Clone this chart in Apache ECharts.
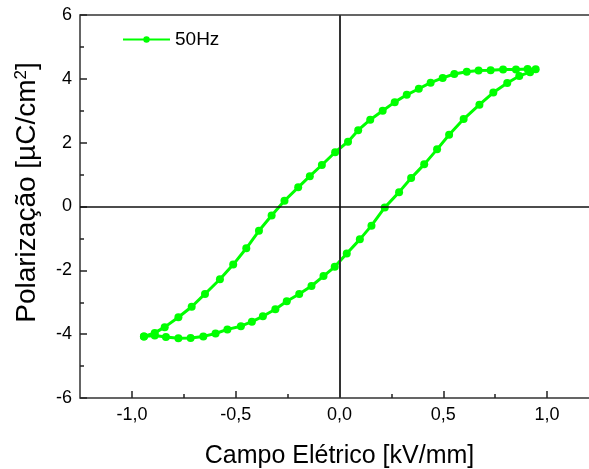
<!DOCTYPE html>
<html>
<head>
<meta charset="utf-8">
<script src="https://cdn.jsdelivr.net/npm/echarts@6/dist/echarts.min.js"></script>
<style>
  html, body { margin: 0; padding: 0; background: #fff; overflow: hidden; }
  /* the frame's right edge sits past the window edge, as in the original */
  #main { width: 620px; height: 469px; }
</style>
</head>
<body>
<div id="main"></div>
<script type="text/javascript">
  // campo eletrico (kV/mm) e polarizacao (uC/cm2), 50Hz
  var campo = [
    -0.942, -0.890, -0.842, -0.776, -0.712, -0.648, -0.576, -0.512, -0.449, -0.388,
    -0.327, -0.265, -0.199, -0.143, -0.085, -0.021, 0.041, 0.090, 0.148, 0.208,
    0.266, 0.324, 0.382, 0.439, 0.497, 0.553, 0.613, 0.670, 0.728, 0.788,
    0.850, 0.906, 0.945,
    0.918, 0.866, 0.808, 0.741, 0.674, 0.598, 0.528, 0.470, 0.408, 0.345,
    0.287, 0.218, 0.154, 0.098, 0.035, -0.023, -0.077, -0.135, -0.194, -0.254,
    -0.309, -0.369, -0.422, -0.475, -0.540, -0.597, -0.656, -0.717, -0.776, -0.836,
    -0.890, -0.942
  ];
  var polarizacao = [
    -4.07, -3.96, -3.78, -3.47, -3.14, -2.74, -2.28, -1.82, -1.31, -0.76,
    -0.28, 0.18, 0.60, 0.95, 1.30, 1.70, 2.03, 2.39, 2.72, 3.00,
    3.27, 3.50, 3.69, 3.88, 4.03, 4.15, 4.22, 4.26, 4.27, 4.29,
    4.29, 4.31, 4.30,
    4.21, 4.09, 3.87, 3.57, 3.19, 2.74, 2.25, 1.79, 1.32, 0.89,
    0.45, -0.03, -0.60, -1.03, -1.47, -1.89, -2.18, -2.49, -2.74, -2.97,
    -3.22, -3.44, -3.61, -3.75, -3.85, -3.98, -4.07, -4.12, -4.13, -4.09,
    -4.04, -4.07
  ];
  var xTicks = [-1, -0.5, 0, 0.5, 1];
  var xMinorTicks = [-0.75, -0.25, 0.25, 0.75];

  var pontos = campo.map(function (e, i) { return [e, polarizacao[i]]; });
  var fonte = "'Liberation Sans', Arial, sans-serif";
  var verde = '#00ff00';

  var myChart = echarts.init(document.getElementById('main'));
  myChart.setOption({
    animation: false,
    backgroundColor: '#fff',
    textStyle: { fontFamily: fonte },
    grid: {
      left: 80, top: 15, width: 519, height: 383,
      outerBoundsMode: 'none',
      show: true, borderColor: '#333', borderWidth: 1.5
    },
    legend: {
      data: ['50Hz'],
      left: 122, top: 30, padding: 0,
      itemWidth: 47, itemHeight: 8,
      textStyle: { fontSize: 19, color: '#000', fontFamily: fonte }
    },
    xAxis: [{
      type: 'value', min: -1.25, max: 1.25,
      name: 'Campo Elétrico [kV/mm]',
      nameLocation: 'middle', nameGap: 46,
      nameTextStyle: { fontSize: 25, color: '#000', fontFamily: fonte },
      axisLine: { show: false, onZero: false },
      splitLine: { show: false },
      axisTick: { inside: true, length: 7, customValues: xTicks, lineStyle: { color: '#222', width: 1.5 } },
      axisLabel: {
        customValues: xTicks, margin: 8, fontSize: 18, color: '#000', fontFamily: fonte,
        formatter: function (v) { return v.toFixed(1).replace('.', ','); }
      }
    }, {
      type: 'value', min: -1.25, max: 1.25, position: 'bottom',
      axisLine: { show: false, onZero: false },
      splitLine: { show: false },
      axisLabel: { show: false },
      axisTick: { inside: true, length: 4, customValues: xMinorTicks, lineStyle: { color: '#222', width: 1.5 } }
    }],
    yAxis: {
      type: 'value', min: -6, max: 6, interval: 2,
      name: 'Polarização [µC/cm{sup|2}]',
      nameLocation: 'middle', nameGap: 38,
      nameTextStyle: {
        fontSize: 28, color: '#000', fontFamily: fonte,
        padding: [0, 0, 0, 28],
        rich: { sup: { fontSize: 17, color: '#000', fontFamily: fonte, padding: [0, 0, 12, 0] } }
      },
      axisLine: { show: false, onZero: false },
      splitLine: { show: false },
      axisTick: { inside: true, length: 7, lineStyle: { color: '#222', width: 1.5 } },
      minorTick: { show: true, splitNumber: 2, length: 4, lineStyle: { color: '#222', width: 1.5 } },
      axisLabel: { margin: 8, fontSize: 18, color: '#000', fontFamily: fonte }
    },
    series: [{
      type: 'line',
      data: [],
      z: 1,
      markLine: {
        silent: true, symbol: 'none', animation: false,
        label: { show: false },
        data: [
          { xAxis: 0, lineStyle: { color: '#333', width: 2, type: 'solid' } },
          { yAxis: 0, lineStyle: { color: '#111', width: 1.5, type: 'solid' } }
        ]
      }
    }, {
      name: '50Hz',
      type: 'line',
      data: pontos,
      z: 3,
      symbol: 'circle',
      symbolSize: 8,
      lineStyle: { color: verde, width: 3 },
      itemStyle: { color: verde }
    }]
  });
</script>
</body>
</html>
